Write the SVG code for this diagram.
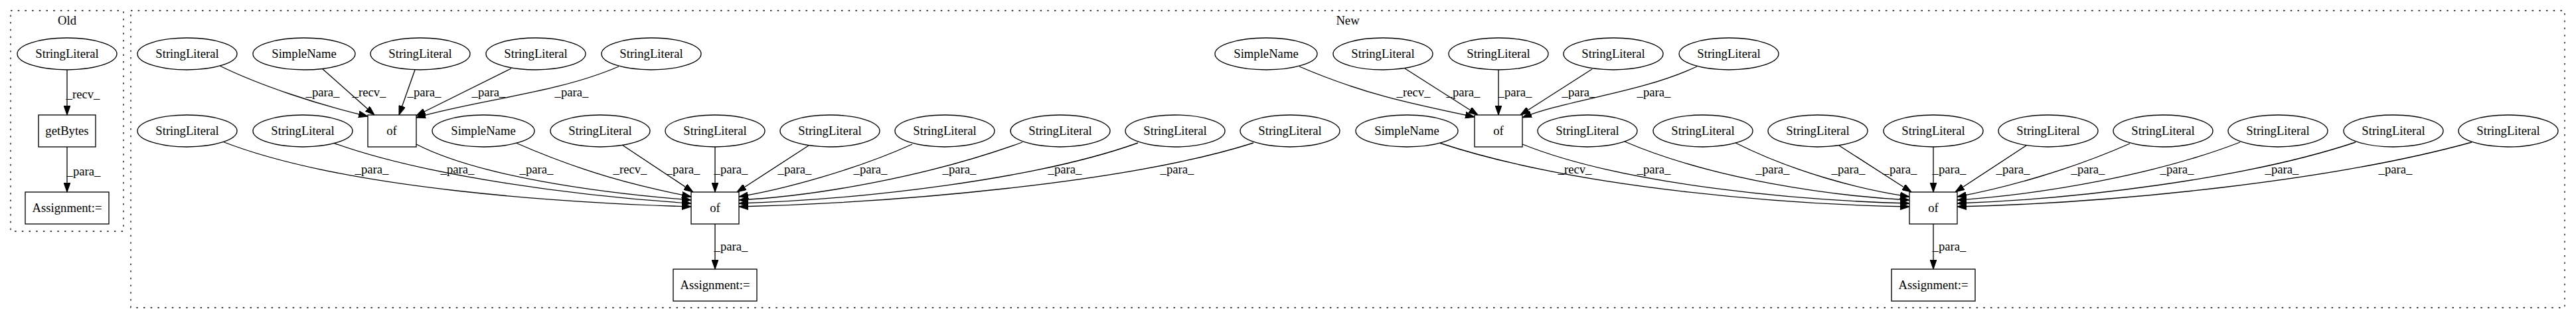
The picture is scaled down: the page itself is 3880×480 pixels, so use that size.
<svg xmlns="http://www.w3.org/2000/svg" width="3880" height="480" viewBox="0 0 3880 480">
<style>
.cl{fill:none;stroke:#000;stroke-width:1.3;stroke-dasharray:2.5,8.2}
.n ellipse,.n rect{fill:#fff;stroke:#000;stroke-width:1.33}
text{font-family:"Liberation Serif","Times New Roman",serif;font-size:18.67px;fill:#000;text-anchor:middle}
.e path{fill:none;stroke:#000;stroke-width:1.33;marker-end:url(#ah)}
</style>
<defs>
<marker id="ah" markerUnits="userSpaceOnUse" markerWidth="14" markerHeight="10" refX="13.3" refY="4.67" orient="auto" viewBox="0 0 13.3 9.33"><path d="M0,0 L13.3,4.67 L0,9.33 z" fill="#000" stroke="#000" stroke-width="1"/></marker>
</defs>
<rect width="3880" height="480" fill="#fff"/>
<g id="cluster_old"><rect class="cl" x="16" y="16" width="170" height="332"/><text x="101" y="37">Old</text></g>
<g id="cluster_new"><rect class="cl" x="197" y="16" width="3666" height="447"/><text x="2030" y="37">New</text></g>

<g id="edges" class="e">
<path d="M101,105 L101,173"/>
<path d="M101,221 L101,289"/>
<!-- top-left of -->
<path d="M331,99 C390,128 480,158 554,175"/>
<path d="M485,103 L564,173"/>
<path d="M625,105 L601,173"/>
<path d="M770,103 L627,174"/>
<path d="M932,100 C840,140 720,150 627,177"/>
<!-- top-right of -->
<path d="M1957,100 C2050,140 2120,155 2221,176"/>
<path d="M2116,103 L2226,173"/>
<path d="M2257,105 L2257,173"/>
<path d="M2398,104 L2290,173"/>
<path d="M2556,100 C2470,140 2360,150 2293,177"/>
<!-- bottom-left of -->
<path d="M335,213 C520,285 850,305 1041,311"/>
<path d="M502,215 C640,265 870,295 1041,306"/>
<path d="M627,217 C720,265 900,290 1041,301"/>
<path d="M777,215 C880,260 960,280 1041,296"/>
<path d="M937,218 L1044,289"/>
<path d="M1077,221 L1077,289"/>
<path d="M1218,219 L1110,289"/>
<path d="M1374,217 C1290,255 1180,285 1113,296"/>
<path d="M1540,214 C1400,265 1230,295 1113,301"/>
<path d="M1714,215 C1560,270 1300,300 1113,306"/>
<path d="M1888,215 C1700,275 1350,305 1113,311"/>
<!-- bottom-right of -->
<path d="M2168,215 C2380,285 2700,308 2876,311"/>
<path d="M2293,217 C2450,280 2720,302 2876,306"/>
<path d="M2447,213 C2580,270 2760,295 2876,301"/>
<path d="M2614,215 C2700,258 2800,285 2876,296"/>
<path d="M2770,219 L2879,289"/>
<path d="M2912,221 L2912,289"/>
<path d="M3052,219 L2945,289"/>
<path d="M3208,216 C3120,255 3020,283 2948,296"/>
<path d="M3374,214 C3250,262 3080,292 2948,301"/>
<path d="M3548,214 C3380,270 3120,300 2948,306"/>
<path d="M3723,214 C3520,270 3200,305 2948,311"/>
<!-- assignments -->
<path d="M1077,337 L1077,405"/>
<path d="M2912,337 L2912,405"/>
</g>

<g id="edge_labels">
<text x="125" y="148">_recv_</text>
<text x="126" y="264">_para_</text>
<text x="486" y="145">_para_</text>
<text x="556" y="145">_recv_</text>
<text x="639" y="145">_para_</text>
<text x="736" y="145">_para_</text>
<text x="861" y="145">_para_</text>
<text x="2129" y="145">_recv_</text>
<text x="2204" y="145">_para_</text>
<text x="2282" y="145">_para_</text>
<text x="2378" y="145">_para_</text>
<text x="2491" y="145">_para_</text>
<text x="560" y="261">_para_</text>
<text x="689" y="261">_para_</text>
<text x="808" y="261">_para_</text>
<text x="949" y="261">_recv_</text>
<text x="1029" y="261">_para_</text>
<text x="1101" y="261">_para_</text>
<text x="1197" y="261">_para_</text>
<text x="1311" y="261">_para_</text>
<text x="1445" y="261">_para_</text>
<text x="1604" y="261">_para_</text>
<text x="1773" y="261">_para_</text>
<text x="2372" y="261">_recv_</text>
<text x="2491" y="261">_para_</text>
<text x="2670" y="261">_para_</text>
<text x="2784" y="261">_para_</text>
<text x="2862" y="261">_para_</text>
<text x="2936" y="261">_para_</text>
<text x="3032" y="261">_para_</text>
<text x="3145" y="261">_para_</text>
<text x="3279" y="261">_para_</text>
<text x="3437" y="261">_para_</text>
<text x="3608" y="261">_para_</text>
<text x="1101" y="377">_para_</text>
<text x="2936" y="377">_para_</text>
</g>

<g id="o_sl" class="n"><ellipse cx="101" cy="81" rx="75" ry="24"/><text x="101" y="87">StringLiteral</text></g>
<g id="o_gb" class="n"><rect x="58" y="173" width="86" height="48"/><text x="101" y="203">getBytes</text></g>
<g id="o_as" class="n"><rect x="38" y="289" width="126" height="48"/><text x="101" y="319">Assignment:=</text></g>

<g id="t1" class="n"><ellipse cx="282" cy="81" rx="75" ry="24"/><text x="282" y="87">StringLiteral</text></g>
<g id="t2" class="n"><ellipse cx="458" cy="81" rx="77" ry="24"/><text x="458" y="87">SimpleName</text></g>
<g id="t3" class="n"><ellipse cx="633" cy="81" rx="75" ry="24"/><text x="633" y="87">StringLiteral</text></g>
<g id="t4" class="n"><ellipse cx="807" cy="81" rx="75" ry="24"/><text x="807" y="87">StringLiteral</text></g>
<g id="t5" class="n"><ellipse cx="981" cy="81" rx="75" ry="24"/><text x="981" y="87">StringLiteral</text></g>
<g id="t6" class="n"><ellipse cx="1907" cy="81" rx="77" ry="24"/><text x="1907" y="87">SimpleName</text></g>
<g id="t7" class="n"><ellipse cx="2083" cy="81" rx="75" ry="24"/><text x="2083" y="87">StringLiteral</text></g>
<g id="t8" class="n"><ellipse cx="2257" cy="81" rx="75" ry="24"/><text x="2257" y="87">StringLiteral</text></g>
<g id="t9" class="n"><ellipse cx="2430" cy="81" rx="75" ry="24"/><text x="2430" y="87">StringLiteral</text></g>
<g id="t10" class="n"><ellipse cx="2604" cy="81" rx="75" ry="24"/><text x="2604" y="87">StringLiteral</text></g>

<g id="r1" class="n"><ellipse cx="282" cy="197" rx="75" ry="24"/><text x="282" y="203">StringLiteral</text></g>
<g id="r2" class="n"><ellipse cx="456" cy="197" rx="75" ry="24"/><text x="456" y="203">StringLiteral</text></g>
<g id="of1" class="n"><rect x="554" y="173" width="73" height="48"/><text x="590" y="203">of</text></g>
<g id="r3" class="n"><ellipse cx="728" cy="197" rx="77" ry="24"/><text x="728" y="203">SimpleName</text></g>
<g id="r4" class="n"><ellipse cx="904" cy="197" rx="75" ry="24"/><text x="904" y="203">StringLiteral</text></g>
<g id="r5" class="n"><ellipse cx="1077" cy="197" rx="75" ry="24"/><text x="1077" y="203">StringLiteral</text></g>
<g id="r6" class="n"><ellipse cx="1250" cy="197" rx="75" ry="24"/><text x="1250" y="203">StringLiteral</text></g>
<g id="r7" class="n"><ellipse cx="1423" cy="197" rx="75" ry="24"/><text x="1423" y="203">StringLiteral</text></g>
<g id="r8" class="n"><ellipse cx="1597" cy="197" rx="75" ry="24"/><text x="1597" y="203">StringLiteral</text></g>
<g id="r9" class="n"><ellipse cx="1770" cy="197" rx="75" ry="24"/><text x="1770" y="203">StringLiteral</text></g>
<g id="r10" class="n"><ellipse cx="1943" cy="197" rx="75" ry="24"/><text x="1943" y="203">StringLiteral</text></g>
<g id="r11" class="n"><ellipse cx="2119" cy="197" rx="77" ry="24"/><text x="2119" y="203">SimpleName</text></g>
<g id="of2" class="n"><rect x="2221" y="173" width="72" height="48"/><text x="2257" y="203">of</text></g>
<g id="r12" class="n"><ellipse cx="2391" cy="197" rx="75" ry="24"/><text x="2391" y="203">StringLiteral</text></g>
<g id="r13" class="n"><ellipse cx="2565" cy="197" rx="75" ry="24"/><text x="2565" y="203">StringLiteral</text></g>
<g id="r14" class="n"><ellipse cx="2738" cy="197" rx="75" ry="24"/><text x="2738" y="203">StringLiteral</text></g>
<g id="r15" class="n"><ellipse cx="2912" cy="197" rx="75" ry="24"/><text x="2912" y="203">StringLiteral</text></g>
<g id="r16" class="n"><ellipse cx="3085" cy="197" rx="75" ry="24"/><text x="3085" y="203">StringLiteral</text></g>
<g id="r17" class="n"><ellipse cx="3258" cy="197" rx="75" ry="24"/><text x="3258" y="203">StringLiteral</text></g>
<g id="r18" class="n"><ellipse cx="3431" cy="197" rx="75" ry="24"/><text x="3431" y="203">StringLiteral</text></g>
<g id="r19" class="n"><ellipse cx="3605" cy="197" rx="75" ry="24"/><text x="3605" y="203">StringLiteral</text></g>
<g id="r20" class="n"><ellipse cx="3778" cy="197" rx="75" ry="24"/><text x="3778" y="203">StringLiteral</text></g>

<g id="of3" class="n"><rect x="1041" y="289" width="72" height="48"/><text x="1077" y="319">of</text></g>
<g id="of4" class="n"><rect x="2876" y="289" width="72" height="48"/><text x="2912" y="319">of</text></g>
<g id="as1" class="n"><rect x="1014" y="405" width="126" height="48"/><text x="1077" y="435">Assignment:=</text></g>
<g id="as2" class="n"><rect x="2849" y="405" width="126" height="48"/><text x="2912" y="435">Assignment:=</text></g>
</svg>
